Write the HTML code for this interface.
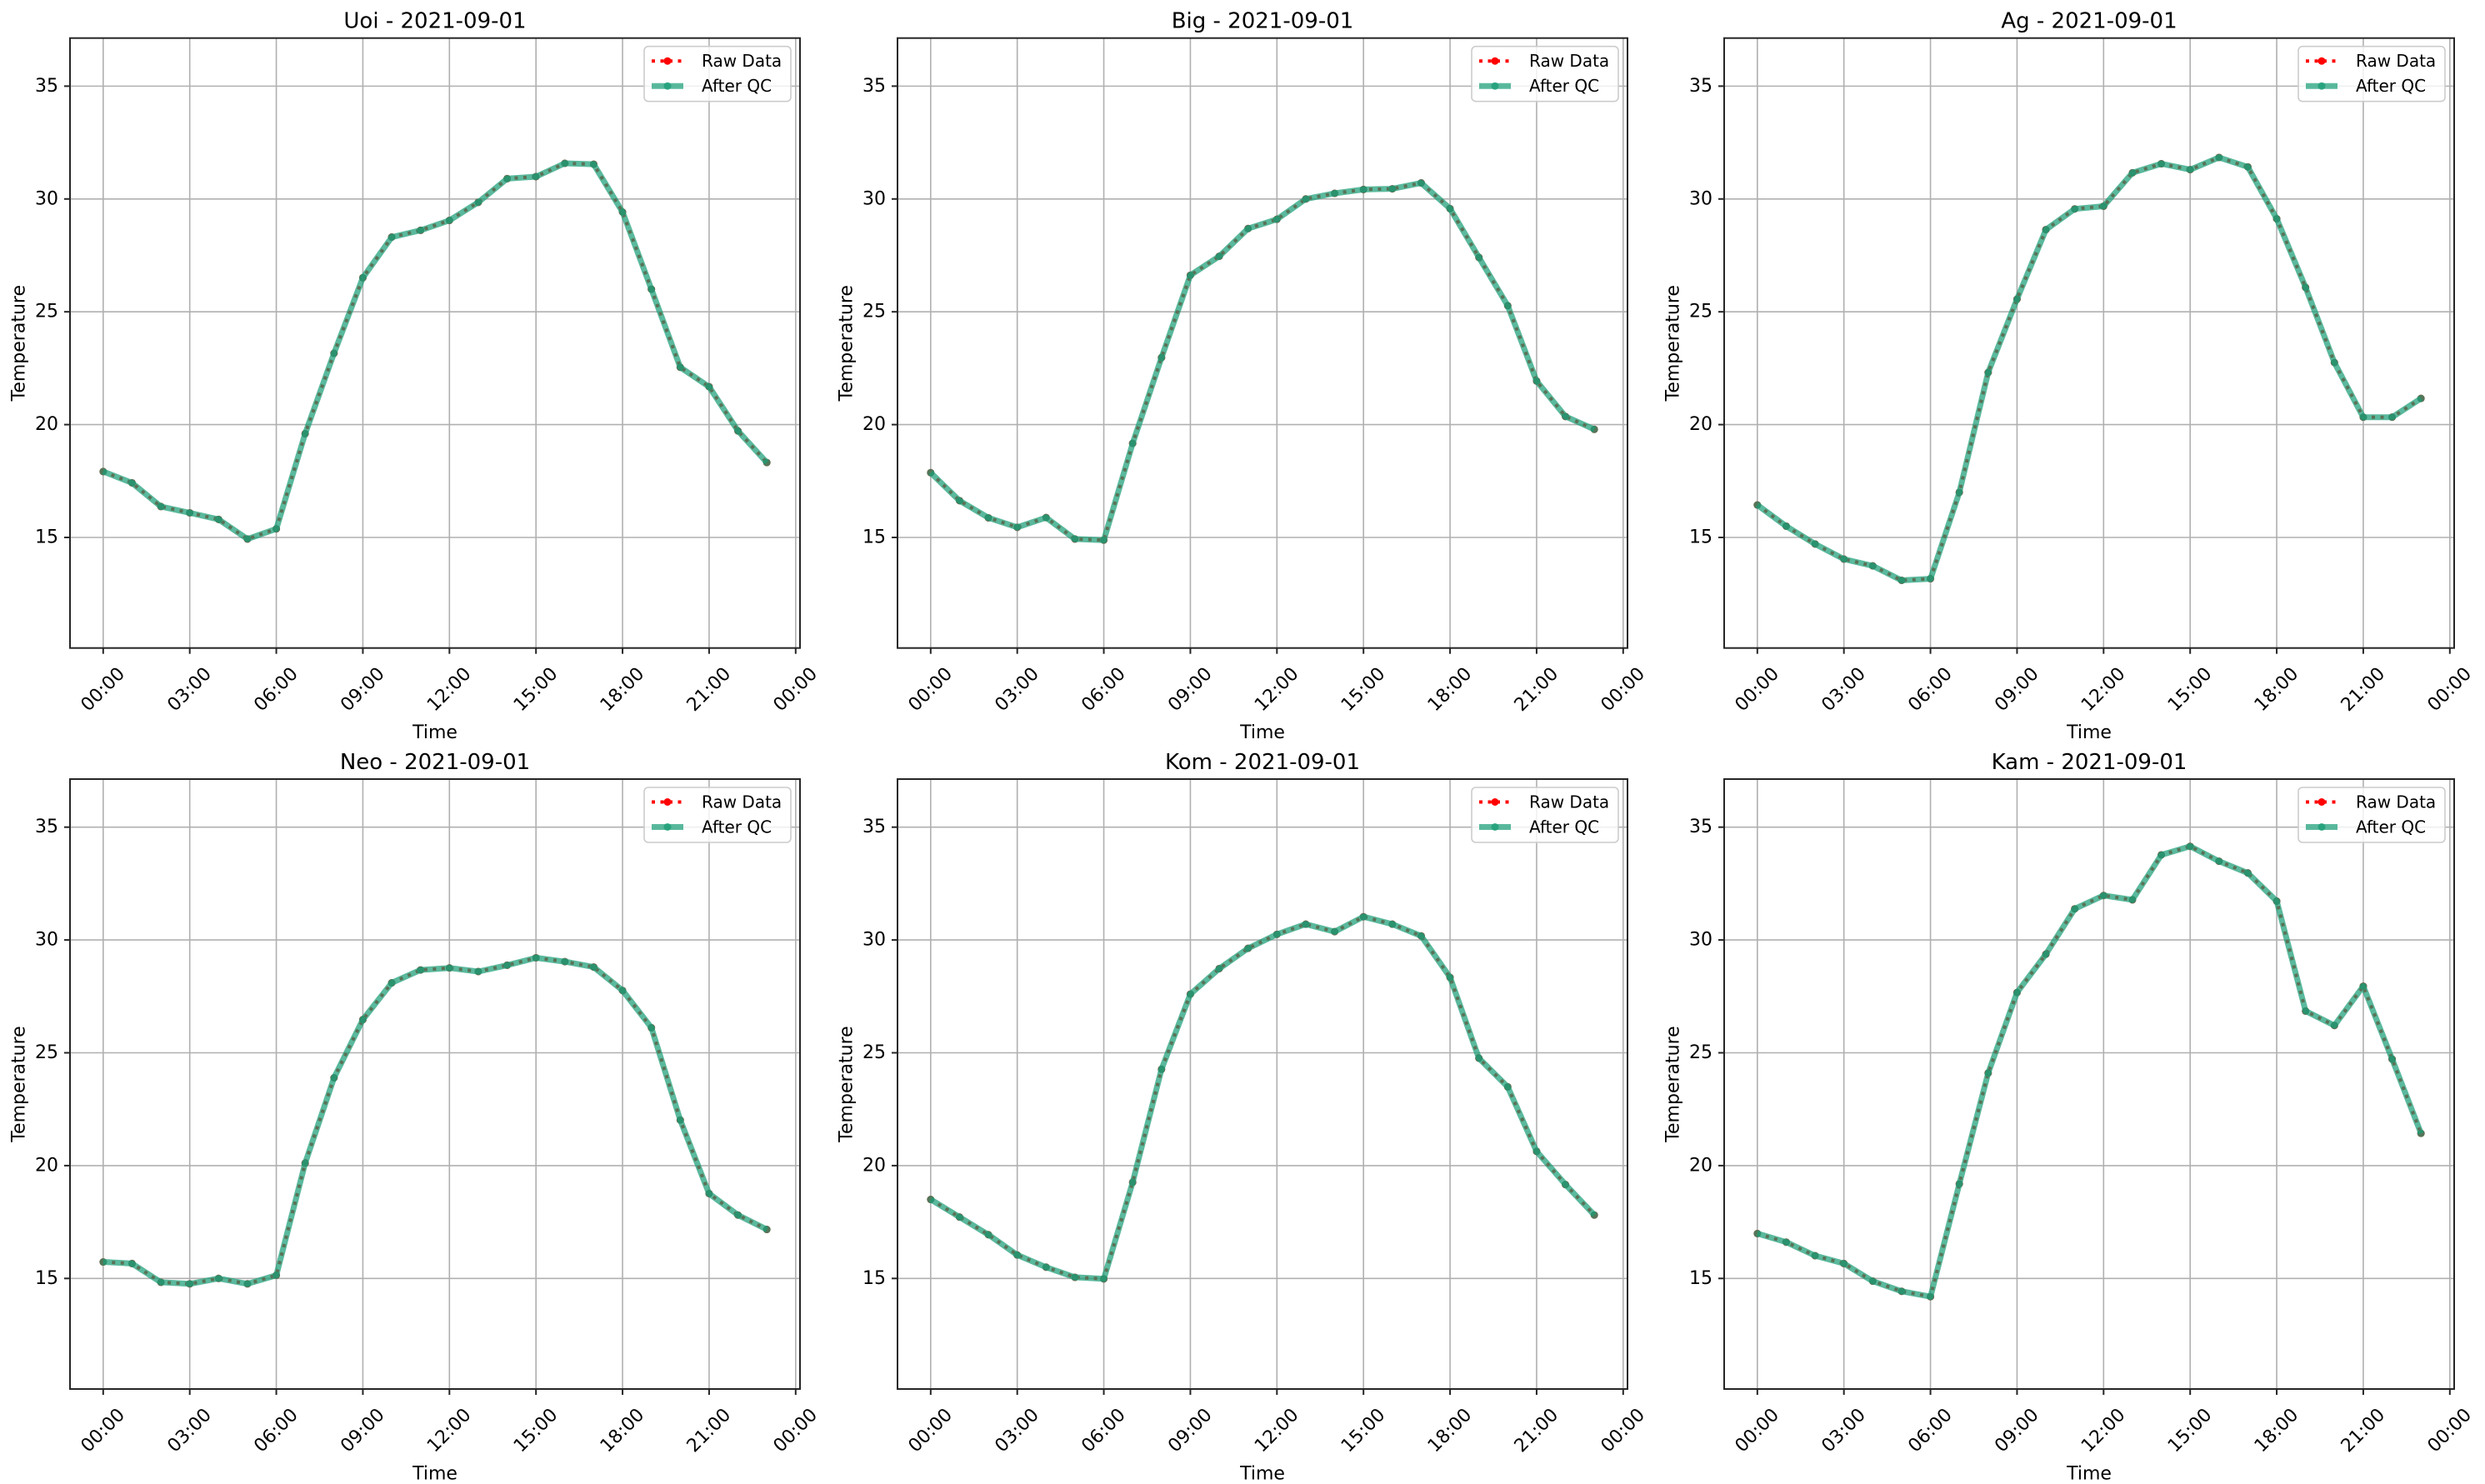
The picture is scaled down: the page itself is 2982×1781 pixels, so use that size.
<!DOCTYPE html>
<html><head><meta charset="utf-8">
<style>
html,body{margin:0;padding:0;background:#fff;}
svg{display:block;font-family:"DejaVu Sans","Liberation Sans",sans-serif;}
</style></head>
<body>
<svg id="fig" width="2982" height="1781" viewBox="0 0 2982 1781" xmlns="http://www.w3.org/2000/svg"></svg>
<script>
const stations = ["Uoi","Big","Ag","Neo","Kom","Kam"];
const dateLabel = "2021-09-01";
const hours = [0,1,2,3,4,5,6,7,8,9,10,11,12,13,14,15,16,17,18,19,20,21,22,23];
const uoiTemps = [17.92,17.42,16.37,16.09,15.80,14.93,15.38,19.6,23.16,26.51,28.31,28.61,29.05,29.85,30.9,30.99,31.58,31.54,29.42,26.0,22.54,21.68,19.72,18.32];
const bigTemps = [17.87,16.63,15.87,15.45,15.88,14.93,14.88,19.17,22.97,26.62,27.46,28.69,29.1,30.0,30.25,30.42,30.45,30.71,29.57,27.41,25.27,21.93,20.36,19.79];
const agTemps = [16.44,15.5,14.71,14.04,13.74,13.1,13.17,17.0,22.31,25.56,28.64,29.56,29.68,31.16,31.56,31.3,31.84,31.42,29.12,26.08,22.75,20.33,20.33,21.16];
const neoTemps = [15.73,15.66,14.83,14.76,15.0,14.76,15.14,20.11,23.89,26.47,28.1,28.67,28.76,28.6,28.88,29.21,29.04,28.8,27.76,26.11,22.02,18.76,17.81,17.17];
const komTemps = [18.5,17.72,16.94,16.04,15.5,15.05,14.98,19.26,24.27,27.6,28.73,29.63,30.25,30.7,30.37,31.03,30.7,30.18,28.34,24.76,23.49,20.63,19.16,17.81];
const kamTemps = [16.99,16.61,16.01,15.66,14.88,14.43,14.19,19.19,24.1,27.67,29.37,31.38,31.97,31.78,33.77,34.15,33.49,32.97,31.72,26.85,26.21,27.95,24.72,21.43];
const xTickHours = [0,3,6,9,12,15,18,21,24];
const xTickLabels = ["00:00","03:00","06:00","09:00","12:00","15:00","18:00","21:00","00:00"];
const yTicks = [15,20,25,30,35];
const yDomain = [10.1,37.13];
const xDomain = [-1.15,24.15];

const allSeries = [uoiTemps,bigTemps,agTemps,neoTemps,komTemps,kamTemps];
const NS = "http://www.w3.org/2000/svg";
const svg = document.getElementById("fig");
function mk(tag, attrs, parent){
  const e = document.createElementNS(NS, tag);
  for (const k in attrs) e.setAttribute(k, attrs[k]);
  (parent||svg).appendChild(e);
  return e;
}
const lefts = [84,1077,2069], tops = [45.7,935], W = 876, H = 732;

allSeries.forEach((temps, i) => {
  const L = lefts[i%3], T = tops[Math.floor(i/3)];
  const xs = h => L + (h - xDomain[0]) / (xDomain[1]-xDomain[0]) * W;
  const ys = v => T + H - (v - yDomain[0]) / (yDomain[1]-yDomain[0]) * H;
  const g = mk("g", {});
  
  

  // grid
  xTickHours.forEach(h => {
    const l = mk("line",{x1:xs(h),x2:xs(h),y1:T,y2:T+H,stroke:"#b0b0b0","stroke-width":1.6},g);
    
    
  });
  yTicks.forEach(v => {
    const l = mk("line",{x1:L,x2:L+W,y1:ys(v),y2:ys(v),stroke:"#b0b0b0","stroke-width":1.6},g);
    
    
  });

  // raw data (red dotted) underneath
  const pts = temps.map((v,k)=>xs(hours[k]).toFixed(1)+","+ys(v).toFixed(1)).join(" ");
  const raw = mk("polyline",{points:pts,fill:"none",stroke:"#ff0000","stroke-width":4,"stroke-dasharray":"4 6.5"},g);
  
  
  temps.forEach((v,k)=>{
    const c = mk("circle",{cx:xs(hours[k]),cy:ys(v),r:4.5,fill:"#ff0000"},g);
    
    
  });
  // after QC
  const qc = mk("polyline",{points:pts,fill:"none",stroke:"#1b9e77","stroke-width":7,"stroke-opacity":0.72,"stroke-linejoin":"round"},g);
  
  
  temps.forEach((v,k)=>{
    const c = mk("circle",{cx:xs(hours[k]),cy:ys(v),r:4.5,fill:"#1b9e77","fill-opacity":0.75},g);
    
    
  });

  // spines
  const fr = mk("rect",{x:L,y:T,width:W,height:H,fill:"none",stroke:"#262626","stroke-width":2},g);
  
  

  // x ticks
  xTickHours.forEach((h,k)=>{
    const x = xs(h);
    const t = mk("line",{x1:x,x2:x,y1:T+H,y2:T+H+7,stroke:"#262626","stroke-width":2},g);
    
    
    const cy = T+H+50;
    const tx = mk("text",{x:x,y:cy,"font-size":22,"text-anchor":"middle","dominant-baseline":"central",fill:"#000",transform:`rotate(-45 ${x} ${cy})`},g);
    tx.textContent = xTickLabels[k];
    
    
  });
  // y ticks
  yTicks.forEach(v=>{
    const y = ys(v);
    const t = mk("line",{x1:L-7,x2:L,y1:y,y2:y,stroke:"#262626","stroke-width":2},g);
    
    
    const tx = mk("text",{x:L-14,y:y,"font-size":22,"text-anchor":"end","dominant-baseline":"central",fill:"#000"},g);
    tx.textContent = String(v);
    
    
  });
  // title & labels
  const ti = mk("text",{x:L+W/2,y:T-20,"font-size":26,"text-anchor":"middle","dominant-baseline":"central",fill:"#000"},g);
  ti.textContent = stations[i] + " - " + dateLabel;
  
  
  const xl = mk("text",{x:L+W/2,y:T+H+102,"font-size":22,"text-anchor":"middle","dominant-baseline":"central",fill:"#000"},g);
  xl.textContent = "Time";
  
  
  const ylx = L-61, yly = T+H/2;
  const yl = mk("text",{x:ylx,y:yly,"font-size":22,"text-anchor":"middle","dominant-baseline":"central",fill:"#000",transform:`rotate(-90 ${ylx} ${yly})`},g);
  yl.textContent = "Temperature";
  
  

  // legend
  const lg = mk("g",{},g);
  
  
  const bx = L+W-187, by = T+10;
  mk("rect",{x:bx,y:by,width:176,height:66,rx:5,fill:"#fff","fill-opacity":0.8,stroke:"#cccccc","stroke-width":1.6},lg);
  const r1 = by+17.5, r2 = by+47.5;
  const e1 = mk("g",{},lg);
  
  
  mk("line",{x1:bx+9,x2:bx+47,y1:r1,y2:r1,stroke:"#ff0000","stroke-width":4,"stroke-dasharray":"4 6.5"},e1);
  mk("circle",{cx:bx+28,cy:r1,r:4.5,fill:"#ff0000"},e1);
  const t1 = mk("text",{x:bx+69,y:r1,"font-size":20,"dominant-baseline":"central",fill:"#000"},e1);
  t1.textContent = "Raw Data";
  const e2 = mk("g",{},lg);
  
  
  mk("line",{x1:bx+9,x2:bx+47,y1:r2,y2:r2,stroke:"#1b9e77","stroke-width":7,"stroke-opacity":0.72},e2);
  mk("circle",{cx:bx+28,cy:r2,r:4.5,fill:"#1b9e77","fill-opacity":0.8},e2);
  const t2 = mk("text",{x:bx+69,y:r2,"font-size":20,"dominant-baseline":"central",fill:"#000"},e2);
  t2.textContent = "After QC";
});
</script>
</body></html>
